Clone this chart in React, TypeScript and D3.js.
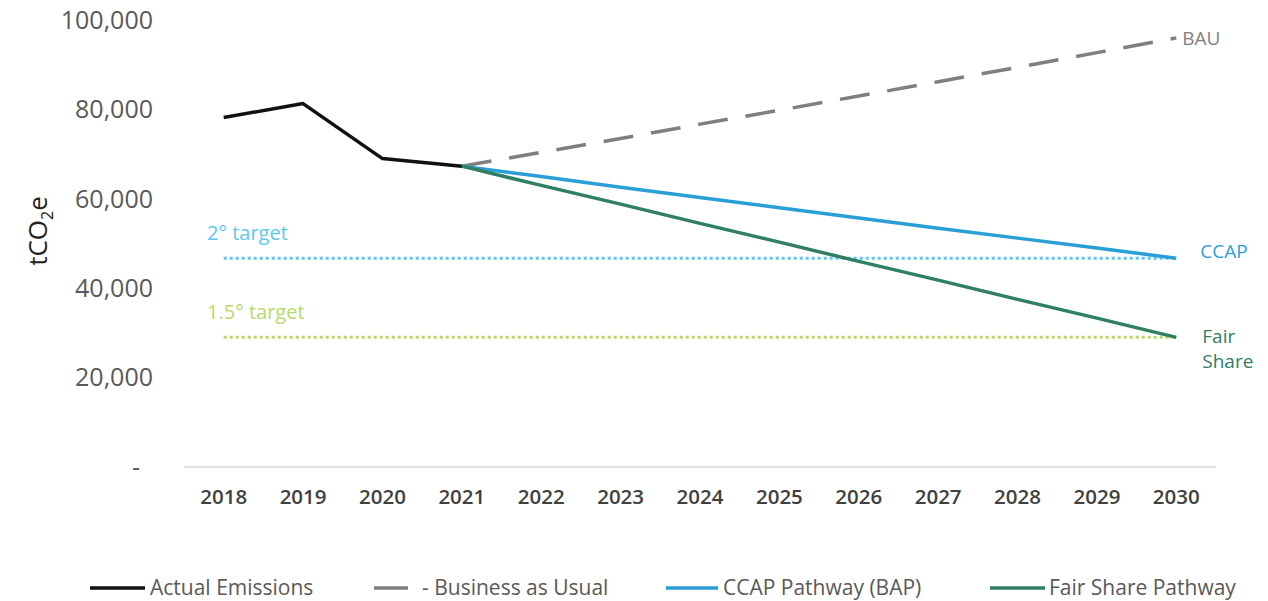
import { useEffect, useRef } from "react";
import * as d3 from "d3";

const WIDTH = 1268;
const HEIGHT = 601;
const MARGIN = { top: 20, right: 52, bottom: 134, left: 184 };
const FONT = "'Open Sans', 'Noto Sans', sans-serif";

const years = ["2018", "2019", "2020", "2021", "2022", "2023", "2024", "2025", "2026", "2027", "2028", "2029", "2030"];
const actual = [78200, 81300, 69000, 67300];
const bau = [67300, 70400, 73500, 76700, 79800, 83000, 86200, 89400, 92700, 96000];
const ccap = [67300, 65000, 62600, 60300, 58000, 55700, 53400, 51200, 49000, 46700];
const fairShare = [67300, 63000, 58800, 54500, 50300, 46000, 41800, 37500, 33300, 29000];
const target2 = 46700;
const target15 = 29000;
const yTicks = [0, 20000, 40000, 60000, 80000, 100000];

const COLORS = {
  actual: "#111111",
  bau: "#7f7f7f",
  ccap: "#2a9fd6",
  fair: "#2f7f62",
  t2: "#5cc8f0",
  t15: "#b8d96a",
};

type Pt = { year: string; value: number };

export default function App() {
  const ref = useRef<SVGSVGElement>(null);

  useEffect(() => {
    const svg = d3.select(ref.current);
    svg.selectAll("*").remove();

    const boundsW = WIDTH - MARGIN.left - MARGIN.right;
    const boundsH = HEIGHT - MARGIN.top - MARGIN.bottom;

    const x = d3.scaleBand().domain(years).range([0, boundsW]);
    const cx = (yr: string) => (x(yr) ?? 0) + x.bandwidth() / 2;
    const y = d3.scaleLinear().domain([0, 100000]).range([boundsH, 0]);

    const g = svg
      .append("g")
      .attr("transform", `translate(${MARGIN.left},${MARGIN.top})`);

    // baseline
    g.append("line")
      .attr("x1", 0)
      .attr("x2", boundsW)
      .attr("y1", y(0))
      .attr("y2", y(0))
      .attr("stroke", "#d9d9d9")
      .attr("stroke-width", 1.5);

    // y axis labels (accounting style: zero shown as a dash, padded in)
    g.selectAll(".ytick")
      .data(yTicks)
      .join("text")
      .attr("x", (d) => (d === 0 ? -44 : -31))
      .attr("y", (d) => y(d))
      .attr("dy", "0.35em")
      .attr("text-anchor", "end")
      .attr("font-family", FONT)
      .attr("font-size", 25)
      .attr("fill", "#595959")
      .text((d) => (d === 0 ? "-" : d3.format(",")(d)));

    // x axis labels
    g.selectAll(".xtick")
      .data(years)
      .join("text")
      .attr("x", (d) => cx(d))
      .attr("y", y(0) + 37)
      .attr("text-anchor", "middle")
      .attr("font-family", FONT)
      .attr("font-weight", 600)
      .attr("font-size", 20.5)
      .attr("fill", "#404040")
      .text((d) => d);

    // y axis title
    const title = svg
      .append("text")
      .attr("transform", `translate(47,231) rotate(-90)`)
      .attr("text-anchor", "middle")
      .attr("font-family", FONT)
      .attr("font-size", 26)
      .attr("fill", "#222");
    title.append("tspan").text("tCO");
    title.append("tspan").attr("font-size", 16).attr("dy", 6).text("2");
    title.append("tspan").attr("dy", -6).text("e");

    // target lines
    const targets = [
      { value: target2, color: COLORS.t2, label: "2° target" },
      { value: target15, color: COLORS.t15, label: "1.5° target" },
    ];
    targets.forEach((t) => {
      g.append("line")
        .attr("x1", cx(years[0]))
        .attr("x2", cx(years[years.length - 1]))
        .attr("y1", y(t.value))
        .attr("y2", y(t.value))
        .attr("stroke", t.color)
        .attr("stroke-width", 3)
        .attr("stroke-dasharray", "3 3");
      g.append("text")
        .attr("x", 23)
        .attr("y", y(t.value) - 18)
        .attr("font-family", FONT)
        .attr("font-size", 20)
        .attr("fill", t.color)
        .text(t.label);
    });

    const line = d3
      .line<Pt>()
      .x((d) => cx(d.year))
      .y((d) => y(d.value));

    const toPts = (vals: number[], start: number): Pt[] =>
      vals.map((v, i) => ({ year: years[start + i], value: v }));

    const series = [
      { pts: toPts(bau, 3), color: COLORS.bau, width: 3.5, dash: "30 18" },
      { pts: toPts(ccap, 3), color: COLORS.ccap, width: 3.5, dash: null },
      { pts: toPts(fairShare, 3), color: COLORS.fair, width: 3.5, dash: null },
      { pts: toPts(actual, 0), color: COLORS.actual, width: 3.5, dash: null },
    ];
    series.forEach((s) => {
      g.append("path")
        .datum(s.pts)
        .attr("d", line)
        .attr("fill", "none")
        .attr("stroke", s.color)
        .attr("stroke-width", s.width)
        .attr("stroke-dasharray", s.dash)
        .attr("stroke-linejoin", "round");
    });

    // end labels
    const lastX = cx(years[years.length - 1]);
    const endLabels = [
      { text: ["BAU"], value: bau[bau.length - 1], color: COLORS.bau, dx: 6, dy: 0 },
      { text: ["CCAP"], value: ccap[ccap.length - 1], color: COLORS.ccap, dx: 24, dy: -7 },
      { text: ["Fair", "Share"], value: fairShare[fairShare.length - 1], color: COLORS.fair, dx: 26, dy: -1 },
    ];
    endLabels.forEach((l) => {
      const t = g
        .append("text")
        .attr("x", lastX + l.dx)
        .attr("y", y(l.value) + l.dy)
        .attr("font-family", FONT)
        .attr("font-size", 19)
        .attr("fill", l.color);
      l.text.forEach((s, i) => {
        t.append("tspan")
          .attr("x", lastX + l.dx)
          .attr("dy", i === 0 ? "0.35em" : 25)
          .text(s);
      });
    });

    // legend
    const legend = [
      { label: "Actual Emissions", color: COLORS.actual, x: 90, len: 55, gap: 60 },
      { label: "- Business as Usual", color: COLORS.bau, x: 374, len: 34, gap: 48 },
      { label: "CCAP Pathway (BAP)", color: COLORS.ccap, x: 666, len: 52, gap: 57 },
      { label: "Fair Share Pathway", color: COLORS.fair, x: 990, len: 55, gap: 59 },
    ];
    const ly = 588;
    legend.forEach((l) => {
      svg
        .append("line")
        .attr("x1", l.x)
        .attr("x2", l.x + l.len)
        .attr("y1", ly)
        .attr("y2", ly)
        .attr("stroke", l.color)
        .attr("stroke-width", 3.5);
      svg
        .append("text")
        .attr("x", l.x + l.gap)
        .attr("y", ly)
        .attr("dy", "0.35em")
        .attr("font-family", FONT)
        .attr("font-size", 21)
        .attr("fill", "#595959")
        .text(l.label);
    });
  }, []);

  return (
    <svg
      ref={ref}
      width={WIDTH}
      height={HEIGHT}
      style={{ position: "absolute", left: 0, top: 0, background: "#fff" }}
    />
  );
}
